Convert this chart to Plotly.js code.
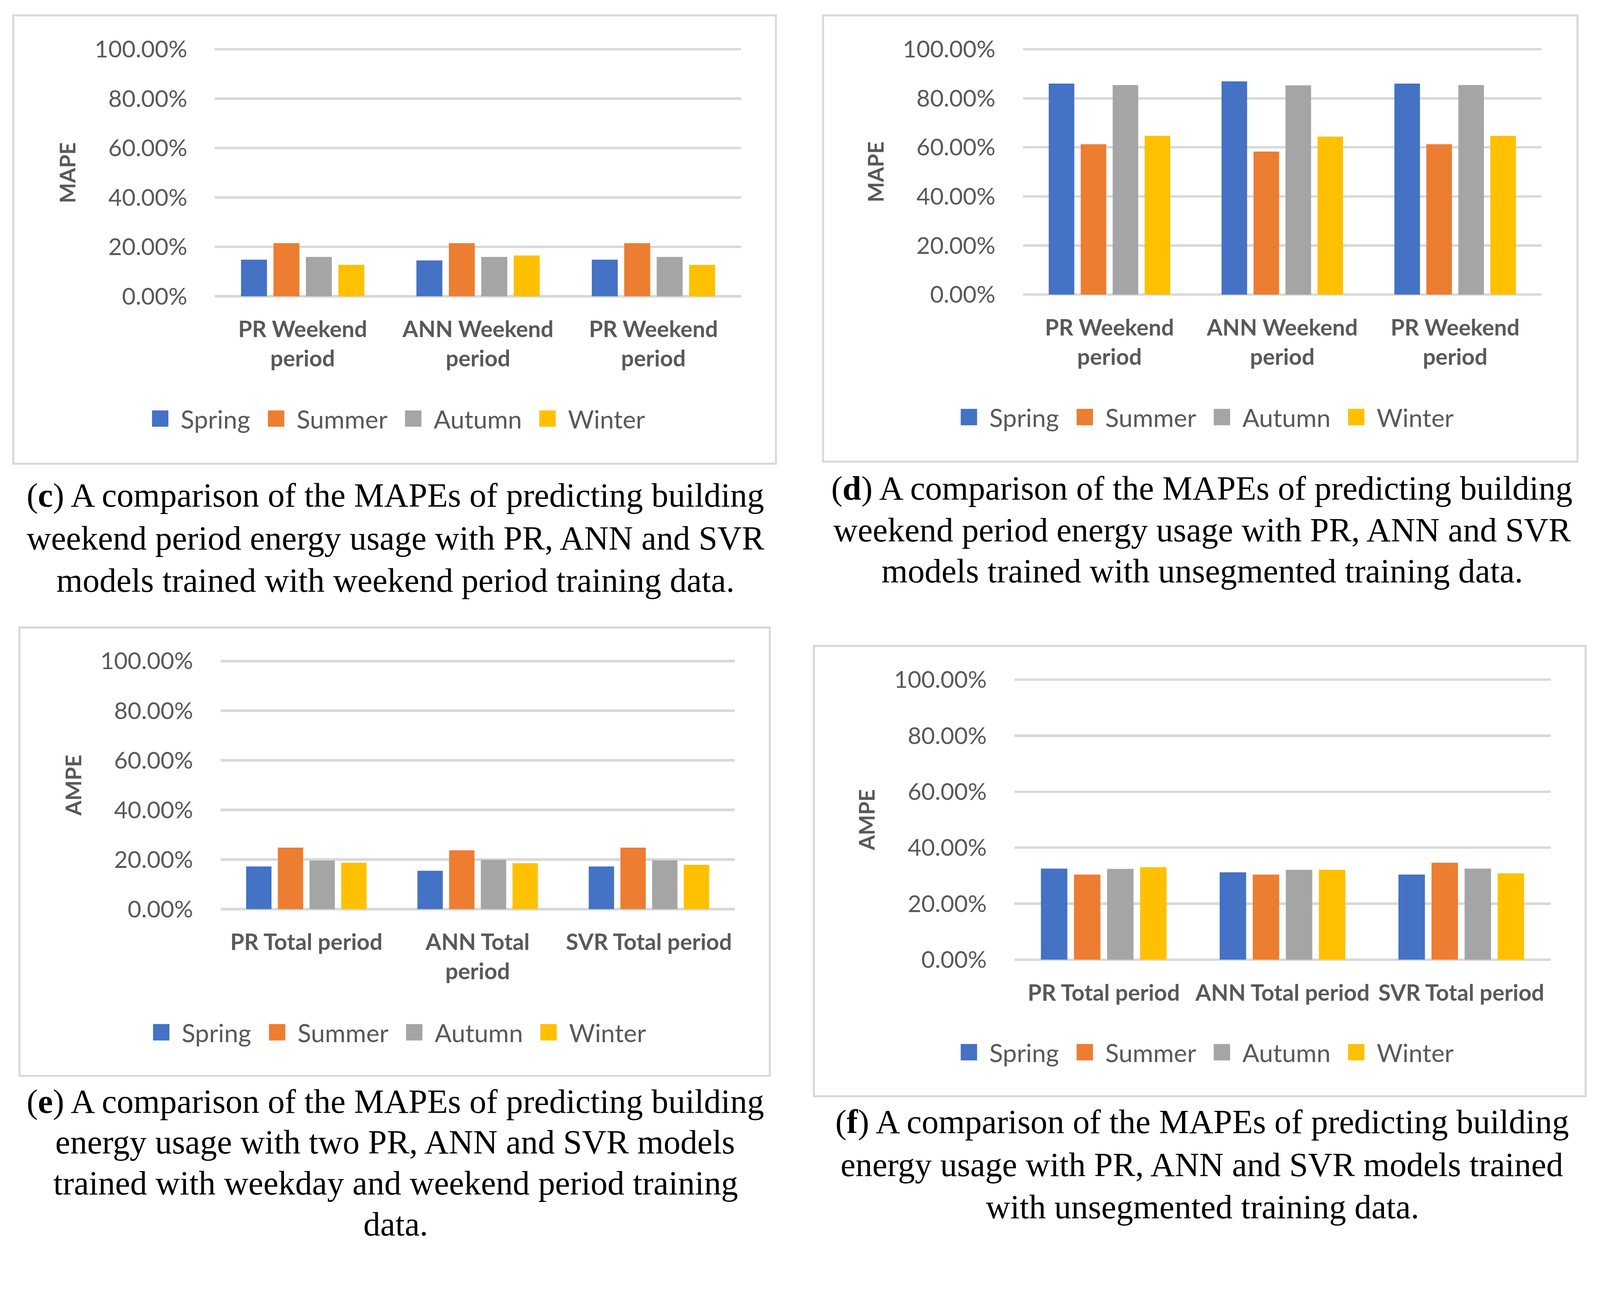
<!DOCTYPE html>
<html>
<head>
<meta charset="utf-8">
<script src="https://cdn.plot.ly/plotly-3.0.1.min.js"></script>
<style>
  html, body { margin: 0; padding: 0; background: #ffffff; overflow: hidden; width: 100vw; height: 100vh; }
  #wrap { position: absolute; left: 0; top: 0; width: 1563px; height: 1214px; transform-origin: 0 0; }
  #chart { width: 1563px; height: 1214px; }
</style>
</head>
<body>
<div id="wrap"><div id="chart"></div></div>
<script>
// ---------------- data ----------------
const seasons = ['Spring', 'Summer', 'Autumn', 'Winter'];
const seasonColors = ['#4472C4', '#ED7D31', '#A5A5A5', '#FFC000'];

const catsC = ['PR Weekend<br>period', 'ANN Weekend<br>period', 'PR Weekend<br>period'];
const catsD = ['PR Weekend<br>period', 'ANN Weekend<br>period', 'PR Weekend<br>period'];
const catsE = ['PR Total period', 'ANN Total<br>period', 'SVR Total period'];
const catsF = ['PR Total period', 'ANN Total period', 'SVR Total period'];

// values in percent, one array per season (Spring, Summer, Autumn, Winter)
const springC = [14.8, 14.5, 14.8];
const summerC = [21.5, 21.5, 21.5];
const autumnC = [15.9, 15.9, 15.9];
const winterC = [12.7, 16.5, 12.7];

const springD = [86.0, 86.9, 86.0];
const summerD = [61.3, 58.3, 61.3];
const autumnD = [85.4, 85.3, 85.4];
const winterD = [64.7, 64.4, 64.7];

const springE = [17.2, 15.5, 17.2];
const summerE = [24.8, 23.7, 24.8];
const autumnE = [19.6, 19.9, 19.7];
const winterE = [18.7, 18.5, 17.9];

const springF = [32.5, 31.2, 30.4];
const summerF = [30.4, 30.4, 34.6];
const autumnF = [32.4, 32.1, 32.5];
const winterF = [33.0, 32.1, 30.8];

const yTickVals = [0, 20, 40, 60, 80, 100];
const yTickText = ['0.00%', '20.00%', '40.00%', '60.00%', '80.00%', '100.00%'];
const yTitles = ['MAPE', 'MAPE', 'AMPE', 'AMPE'];

const captionC = ['(<b>c</b>) A comparison of the MAPEs of predicting building',
  'weekend period energy usage with PR, ANN and SVR',
  'models trained with weekend period training data.'];
const captionD = ['(<b>d</b>) A comparison of the MAPEs of predicting building',
  'weekend period energy usage with PR, ANN and SVR',
  'models trained with unsegmented training data.'];
const captionE = ['(<b>e</b>) A comparison of the MAPEs of predicting building',
  'energy usage with two PR, ANN and SVR models',
  'trained with weekday and weekend period training',
  'data.'];
const captionF = ['(<b>f</b>) A comparison of the MAPEs of predicting building',
  'energy usage with PR, ANN and SVR models trained',
  'with unsegmented training data.'];

// ---------------- layout geometry (px in a 1563 x 1214 design space) ----------------
const W = 1563, H = 1214;
const S = Math.min(window.innerWidth / W, window.innerHeight / H);
document.getElementById('wrap').style.transform = 'scale(' + S + ')';

const px = p => p / W;
const py = p => 1 - p / H;

const panels = [
  { cats: catsC, vals: [springC, summerC, autumnC, winterC], caption: captionC,
    frame: [13, 15, 758, 453], plot: [210, 724, 289.4, 48.1],
    legend: [386, 409], capX: 386, capY: [485, 526, 567] },
  { cats: catsD, vals: [springD, summerD, autumnD, winterD], caption: captionD,
    frame: [804, 15, 1541, 451], plot: [999.4, 1505.9, 287.8, 48.1],
    legend: [1176, 407.5], capX: 1174, capY: [477.5, 517.5, 558] },
  { cats: catsE, vals: [springE, summerE, autumnE, winterE], caption: captionE,
    frame: [19, 613, 752, 1051], plot: [215.6, 717.6, 888.2, 645.8],
    legend: [387, 1008.5], capX: 386, capY: [1076, 1116, 1156, 1196] },
  { cats: catsF, vals: [springF, summerF, autumnF, winterF], caption: captionF,
    frame: [795, 631, 1549, 1071], plot: [990.9, 1514.8, 937.5, 664],
    legend: [1176, 1028], capX: 1174, capY: [1096.5, 1137.5, 1178.5] }
];

const axisFont = 'Lato, "Open Sans", sans-serif';
const serifFont = '"Liberation Serif", "DejaVu Serif", serif';
const grey = '#595959';

const data = [];
const layout = {
  width: W, height: H,
  margin: { l: 0, r: 0, t: 0, b: 0 },
  paper_bgcolor: '#ffffff', plot_bgcolor: 'rgba(0,0,0,0)',
  showlegend: true,
  barmode: 'group', bargap: 0.26, bargroupgap: 0.2,
  hovermode: false,
  shapes: [], annotations: []
};

const pad = 1.2; // % units of padding above/below range ends
panels.forEach((p, i) => {
  const n = i + 1;
  const sfx = n === 1 ? '' : String(n);
  const xa = 'x' + sfx, ya = 'y' + sfx;
  const legName = 'legend' + sfx;
  const xs = p.cats.map((c, k) => k);

  p.vals.forEach((v, s) => {
    data.push({
      type: 'bar', x: xs, y: v, name: seasons[s],
      marker: { color: seasonColors[s], line: { width: 0 } },
      xaxis: xa, yaxis: ya, showlegend: false, legendgroup: 'g' + n + s
    });
  });
  seasons.forEach((s, k) => {
    data.push({
      type: 'scatter', mode: 'markers', x: [null], y: [null], name: s,
      marker: { symbol: 'square', size: 16, color: seasonColors[k] },
      xaxis: xa, yaxis: ya, legend: legName, showlegend: true, legendgroup: 'g' + n + k
    });
  });

  const [x0, x1, y0, y100] = p.plot;
  const ppu = (y0 - y100) / 100;
  const domTop = y100 - pad * ppu, domBot = y0 + pad * ppu;

  layout['xaxis' + sfx] = {
    domain: [px(x0), px(x1)], anchor: ya,
    range: [-0.5, p.cats.length - 0.5], fixedrange: true,
    tickmode: 'array', tickvals: xs, ticktext: p.cats,
    showgrid: false, zeroline: false, showline: false, ticks: '',
    ticklabelstandoff: 14,
    tickfont: { family: axisFont, size: 22, color: grey, weight: 'bold' }
  };
  layout['yaxis' + sfx] = {
    domain: [py(domBot), py(domTop)], anchor: xa,
    range: [-pad, 100 + pad], fixedrange: true,
    tickmode: 'array', tickvals: yTickVals, ticktext: yTickText,
    showgrid: true, gridcolor: '#d9d9d9', gridwidth: 2.4,
    zeroline: false, showline: false, ticks: '',
    ticklabelstandoff: 26,
    tickfont: { family: axisFont, size: 23, color: grey },
    title: { text: yTitles[i], standoff: 12,
      font: { family: axisFont, size: 21, color: grey, weight: 'bold' } }
  };
  layout[legName] = {
    orientation: 'h', x: px(p.legend[0]), xanchor: 'center',
    y: py(p.legend[1]), yanchor: 'middle', xref: 'paper', yref: 'paper',
    bgcolor: 'rgba(0,0,0,0)', borderwidth: 0, itemwidth: 30,
    itemclick: false, itemdoubleclick: false,
    font: { family: axisFont, size: 24.5, color: grey }
  };

  const [fx0, fy0, fx1, fy1] = p.frame;
  layout.shapes.push({
    type: 'rect', xref: 'paper', yref: 'paper', layer: 'below',
    x0: px(fx0), x1: px(fx1), y0: py(fy1), y1: py(fy0),
    line: { color: '#d9d9d9', width: 2 }, fillcolor: 'rgba(0,0,0,0)'
  });
  p.caption.forEach((line, k) => {
    layout.annotations.push({
      xref: 'paper', yref: 'paper', x: px(p.capX), y: py(p.capY[k]),
      xanchor: 'center', yanchor: 'middle', showarrow: false, text: line,
      font: { family: serifFont, size: 33, color: '#000000' }
    });
  });
});

Plotly.newPlot('chart', data, layout, { displayModeBar: false, staticPlot: true });
</script>
</body>
</html>
